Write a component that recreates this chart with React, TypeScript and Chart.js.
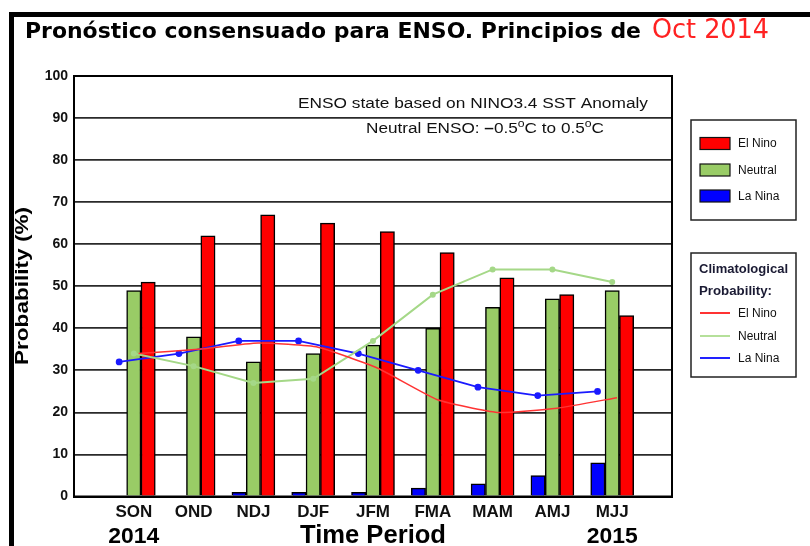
import { useEffect, useRef } from 'react';
import { Chart, registerables } from 'chart.js';
Chart.register(...registerables);

// ---- data ----
const periods = ['SON', 'OND', 'NDJ', 'DJF', 'JFM', 'FMA', 'MAM', 'AMJ', 'MJJ'];
const laNina = [0, 0, 1, 1, 1, 2, 3, 5, 8];
const neutral = [49, 38, 32, 34, 36, 40, 45, 47, 49];
const elNino = [51, 62, 67, 65, 63, 58, 52, 48, 43];
const climLaNina = [32, 34, 37, 37, 34, 30, 26, 24, 25];
const climNeutral = [34, 31, 27, 28, 37, 48, 54, 54, 51];
const climElNino = [34, 35, 36.5, 35.5, 30.5, 23, 20, 21, 23.5];
const yMin = 0;
const yMax = 100;
const yStep = 10;
const startYear = '2014';
const endYear = '2015';
const titleMain = 'Pronóstico consensuado para ENSO. Principios de ';
const titleDate = 'Oct 2014';

const FONT = "'Liberation Sans', Arial, sans-serif";

function fitText(ctx: CanvasRenderingContext2D, text: string, x: number, y: number, font: string, targetW: number, align: 'left' | 'center' | 'right' = 'left') {
  ctx.save();
  ctx.font = font;
  const w = ctx.measureText(text).width;
  const s = targetW / w;
  let x0 = x;
  if (align === 'center') x0 = x - targetW / 2;
  if (align === 'right') x0 = x - targetW;
  ctx.translate(x0, y);
  ctx.scale(s, 1);
  ctx.textAlign = 'left';
  ctx.textBaseline = 'alphabetic';
  ctx.fillText(text, 0, 0);
  ctx.restore();
}

const decor = {
  id: 'decor',
  beforeDraw(chart: any) {
    const ctx = chart.ctx as CanvasRenderingContext2D;
    ctx.save();
    ctx.fillStyle = '#fff';
    ctx.fillRect(0, 0, chart.width, chart.height);
    ctx.restore();
  },
  afterDraw(chart: any) {
    const ctx = chart.ctx as CanvasRenderingContext2D;
    const ca = chart.chartArea;
    const xs = chart.scales.x;
    ctx.save();
    // frame
    ctx.fillStyle = '#000';
    ctx.fillRect(9, 12, 5, chart.height - 12);
    ctx.fillRect(9, 12, chart.width - 9, 5);

    // plot border
    ctx.strokeStyle = '#000';
    ctx.lineWidth = 2;
    ctx.strokeRect(ca.left, ca.top, ca.right - ca.left, ca.bottom - ca.top);

    // title
    ctx.fillStyle = '#000';
    fitText(ctx, titleMain.trimEnd(), 25, 38, "bold 21px 'DejaVu Sans', sans-serif", 616);
    ctx.fillStyle = '#ff2222';
    fitText(ctx, titleDate, 652, 38, "26px 'DejaVu Sans', sans-serif", 117);

    // y title
    ctx.save();
    ctx.translate(28, 286);
    ctx.rotate(-Math.PI / 2);
    ctx.fillStyle = '#000';
    fitText(ctx, 'Probability (%)', 0, 0, `bold 19px ${FONT}`, 158, 'center');
    ctx.restore();

    // years and axis title
    ctx.fillStyle = '#000';
    fitText(ctx, startYear, xs.getPixelForValue(1), 543, `bold 22px ${FONT}`, 51, 'center');
    fitText(ctx, endYear, xs.getPixelForValue(periods.length), 543, `bold 22px ${FONT}`, 51, 'center');
    fitText(ctx, 'Time Period', (ca.left + ca.right) / 2, 543, `bold 25px ${FONT}`, 146, 'center');

    // annotation
    ctx.fillStyle = '#111';
    fitText(ctx, 'ENSO state based on NINO3.4 SST Anomaly', 473, 108, `14px ${FONT}`, 350, 'center');
    {
      const parts: [string, boolean][] = [
        ['Neutral ENSO: ', false], ['\u2013', true], ['0.5', false], ['o', false], ['C to 0.5', false], ['o', false], ['C', false],
      ];
      const sup = [false, false, false, true, false, true, false];
      const fMain = `14px ${FONT}`;
      const fBold = `bold 14px ${FONT}`;
      const fSup = `10px ${FONT}`;
      let total = 0;
      const widths: number[] = [];
      parts.forEach(([t, b], i) => {
        ctx.font = sup[i] ? fSup : b ? fBold : fMain;
        const w = ctx.measureText(t).width;
        widths.push(w);
        total += w;
      });
      const target = 238;
      const s = target / total;
      ctx.save();
      ctx.translate(485 - target / 2, 133);
      ctx.scale(s, 1);
      let cx = 0;
      parts.forEach(([t, b], i) => {
        ctx.font = sup[i] ? fSup : b ? fBold : fMain;
        ctx.fillText(t, cx, sup[i] ? -6 : 0);
        cx += widths[i];
      });
      ctx.restore();
    }

    // legend box 1
    ctx.lineWidth = 1.5;
    ctx.strokeStyle = '#222';
    ctx.strokeRect(691, 120, 105, 100);
    const sw = [
      ['#ff0000', 'El Nino', 143.5],
      ['#99cc66', 'Neutral', 170],
      ['#0000ff', 'La Nina', 196],
    ] as [string, string, number][];
    sw.forEach(([c, t, y]) => {
      ctx.fillStyle = c;
      ctx.fillRect(700, y - 6, 30, 12);
      ctx.lineWidth = 1.2;
      ctx.strokeStyle = '#111';
      ctx.strokeRect(700, y - 6, 30, 12);
      ctx.fillStyle = '#111';
      ctx.font = `12px ${FONT}`;
      ctx.textBaseline = 'middle';
      ctx.fillText(t, 738, y + 0.5);
    });

    // legend box 2
    ctx.lineWidth = 1.5;
    ctx.strokeStyle = '#222';
    ctx.strokeRect(691, 253, 105, 124);
    ctx.fillStyle = '#1a1a33';
    fitText(ctx, 'Climatological', 699, 273, `bold 12px ${FONT}`, 89);
    fitText(ctx, 'Probability:', 699, 295, `bold 12px ${FONT}`, 73);
    const ln = [
      ['#ff3333', 'El Nino', 313],
      ['#b5e09a', 'Neutral', 336],
      ['#2222ff', 'La Nina', 358],
    ] as [string, string, number][];
    ln.forEach(([c, t, y]) => {
      ctx.strokeStyle = c;
      ctx.lineWidth = 2;
      ctx.beginPath();
      ctx.moveTo(700, y);
      ctx.lineTo(730, y);
      ctx.stroke();
      ctx.fillStyle = '#111';
      ctx.font = `12px ${FONT}`;
      ctx.textBaseline = 'middle';
      ctx.fillText(t, 738, y + 0.5);
    });
    ctx.restore();
  },
};

export default function App() {
  const ref = useRef<HTMLCanvasElement | null>(null);
  useEffect(() => {
    document.body.style.margin = '0';
    const canvas = ref.current!;
    const labels = ['', ...periods, ''];
    const pts = (a: number[], off: number) => a.map((v, i) => ({ x: i + 1 + off, y: v }));
    const barStyle = { xAxisID: 'xl', borderColor: '#000', borderWidth: 1.5, barThickness: 14.3, grouped: false, order: 1 };
    const chart = new Chart(canvas, {
      type: 'bar',
      data: {
        labels,
        datasets: [
          { type: 'line', label: 'Clim El Nino', data: pts(climElNino, 0.08) as any, xAxisID: 'xl', borderColor: '#ff3333', borderWidth: 1.5, pointRadius: 0, tension: 0.15, order: 0 },
          { type: 'line', label: 'Clim Neutral', data: pts(climNeutral, 0) as any, xAxisID: 'xl', borderColor: '#a5d888', backgroundColor: '#a5d888', borderWidth: 2, pointRadius: 2, tension: 0, order: 0 },
          { type: 'line', label: 'Clim La Nina', data: pts(climLaNina, -0.245) as any, xAxisID: 'xl', borderColor: '#1a1aff', backgroundColor: '#1a1aff', borderWidth: 1.8, pointRadius: 2.5, tension: 0, order: 0 },
          { type: 'bar', label: 'La Nina', data: pts(laNina, -0.24) as any, backgroundColor: '#0000ff', ...barStyle },
          { type: 'bar', label: 'Neutral', data: pts(neutral, 0) as any, backgroundColor: '#99cc66', ...barStyle },
          { type: 'bar', label: 'El Nino', data: pts(elNino, 0.24) as any, backgroundColor: '#ff0000', ...barStyle },
        ],
      },
      options: {
        responsive: false,
        animation: false,
        layout: { padding: { top: 76, right: 138, left: 0, bottom: 0 } },
        plugins: { legend: { display: false }, tooltip: { enabled: false }, title: { display: false } },
        scales: {
          x: {
            type: 'category',
            offset: false,
            grid: { display: false, drawTicks: false },
            border: { display: true, color: '#000', width: 2 },
            ticks: { autoSkip: false, maxRotation: 0, minRotation: 0, color: '#111', padding: 6, font: { family: FONT, size: 17, weight: 'bold' } },
            afterFit: (s: any) => { s.height = 49.5; },
          },
          xl: { type: 'linear', display: false, offset: false, grace: 0, min: 0, max: labels.length - 1 },
          y: {
            min: yMin,
            max: yMax,
            ticks: { stepSize: yStep, color: '#111', padding: 6, font: { family: FONT, size: 14, weight: 'bold' } },
            grid: { color: '#2a2a2a', lineWidth: 1.8, drawTicks: false },
            border: { display: true, color: '#000', width: 2 },
            afterFit: (s: any) => { s.width = 74; },
          },
        },
      },
      plugins: [decor],
    });
    return () => chart.destroy();
  }, []);
  return (
    <div style={{ width: 810, height: 546 }}>
      <canvas ref={ref} width={810} height={546} style={{ display: 'block' }} />
    </div>
  );
}
